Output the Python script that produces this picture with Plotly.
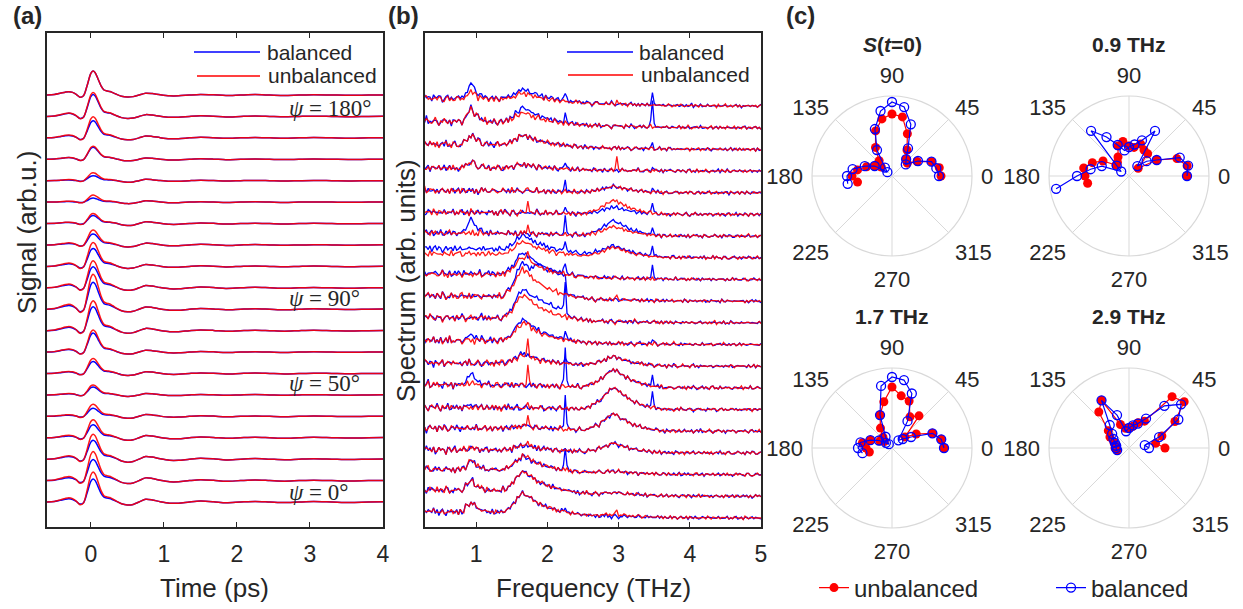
import numpy as np
import plotly.graph_objects as go

W, H = 1243, 609
FONT = "Liberation Sans, Arial, sans-serif"
INK = "#262626"
BLUE = "#0000ff"
RED = "#ff0000"

# ---------------- common ----------------
psi = [0, 10, 20, 30, 40, 50, 60, 70, 80, 90, 100, 110, 120, 130, 140, 150, 160, 170, 180, 190]

# ---------------- panel (a): time traces ----------------
t_nodes = [-0.6, -0.5, -0.42, -0.35, -0.3, -0.25, -0.2, -0.15, -0.1, -0.05, 0.0, 0.03, 0.06, 0.1, 0.14,
           0.18, 0.22, 0.26, 0.3, 0.35, 0.42, 0.5, 0.58, 0.66, 0.75, 0.84, 0.95, 1.08, 1.2, 1.35, 1.5,
           1.68, 1.85, 2.05, 2.25, 2.45, 2.65, 2.85, 3.05, 3.3, 3.55, 3.8, 4.0]
pulse_shape = [0.0, 0.02, 0.07, 0.12, 0.14, 0.11, 0.03, -0.09, -0.03, 0.40, 0.90, 1.0, 0.93, 0.66, 0.38,
               0.21, 0.17, 0.15, 0.10, 0.03, 0.0, 0.0, 0.0, 0.0, 0.0, 0.0, 0.0, 0.0, 0.0, 0.0, 0.0,
               0.0, 0.0, 0.0, 0.0, 0.0, 0.0, 0.0, 0.0, 0.0, 0.0, 0.0, 0.0]
osc_shape = [0.0, 0.0, 0.0, 0.0, 0.0, 0.0, 0.0, 0.0, 0.0, 0.0, 0.0, 0.0, 0.0, 0.0, 0.0,
             0.0, 0.0, 0.0, 0.0, 0.0, -0.6, -1.0, -0.8, 0.0, 0.9, 0.7, 0.1, -0.4, -0.4, 0.0, 0.3,
             0.1, -0.25, 0.0, 0.2, 0.0, -0.2, 0.0, 0.15, 0.0, -0.15, 0.0, 0.05]
peak_bal = [23, 21, 19, 13, 8, 8, 12, 19, 24, 27, 21, 18, 11, 8, 4, 5, 12, 17, 22, 24]
peak_unbal = [30, 29, 25, 18, 12, 10, 15, 22, 30, 35, 27, 24, 15, 10, 7, 8, 13, 21, 24, 24]
tail_amp = [3, 3, 3, 2.5, 2, 1.5, 2, 2, 2.5, 2.5, 2.5, 2, 2, 2, 1.5, 1.5, 1.5, 2, 2, 2]

# ---------------- panel (b): spectra ----------------
freq = [round(0.275 + 0.025 * j, 3) for j in range(190)]
bg_f = [0.28, 0.5, 1.0, 1.45, 1.9, 2.4, 3.0, 3.6, 4.2, 5.0]
bg_v = [1.15, 1.0, 1.0, 0.95, 0.7, 0.45, 0.25, 0.1, 0.03, 0.0]
noise_f = [0.28, 1.5, 2.5, 5.0]
noise_v = [1.3, 1.1, 0.75, 0.55]
p09_off = [-0.12, -0.05, 0.0, 0.05, 0.1, 0.18, 0.25]
p09_v = [0.0, 0.5, 1.0, 0.6, 0.3, 0.1, 0.0]
p17_off = [-0.28, -0.15, -0.07, 0.0, 0.08, 0.18, 0.3, 0.5, 0.8, 1.0]
p17_v = [0.0, 0.3, 0.75, 1.0, 0.85, 0.6, 0.4, 0.2, 0.05, 0.0]
p29_off = [-0.4, -0.2, -0.08, 0.0, 0.1, 0.25, 0.45, 0.7]
p29_v = [0.0, 0.35, 0.75, 1.0, 0.75, 0.4, 0.15, 0.0]
spike_off = [-0.05, -0.025, 0.0, 0.025, 0.05]
spike_v = [0.0, 0.15, 1.0, 0.15, 0.0]
plat_f = [1.75, 1.85, 2.0, 2.2, 2.25, 2.275]
plat_v = [0.0, 0.8, 0.9, 1.0, 1.0, 0.0]

bg_bal = [6, 6, 5, 3, 3, 2, 3, 3, 4, 5, 5, 6, 9, 3, 2, 2, 3, 5, 6, 8]
bg_unbal = [6, 6, 5, 3, 3, 2, 3, 3, 4, 5, 5, 5, 4, 3, 2, 2, 3, 5, 6, 7]
p09_bal = [11, 11, 10, 2, 0, 3, 12, 0, 6, 0, 0, 0, 0, 15, 0, 0, 7, 10, 14, 15]
p09_unbal = [11, 11, 10, 2, 0, 0, 2, 0, 0, 0, 0, 0, 0, 0, 0, 0, 7, 10, 14, 8]
p17_bal = [20, 20, 14, 5, 3, 0, 0, 10, 22, 30, 35, 22, 15, 0, 0, 0, 4, 10, 15, 10]
p17_unbal = [20, 20, 14, 5, 3, 0, 0, 8, 18, 24, 28, 18, 13, 0, 0, 0, 4, 10, 10, 7]
p29_bal = [0, 2, 2, 9, 17, 22, 18, 9, 0, 0, 0, 0, 10, 15, 7, 6, 0, 0, 0, 0]
p29_unbal = [2, 2, 2, 9, 17, 22, 18, 9, 0, 0, 0, 0, 10, 9, 14, 6, 0, 0, 0, 0]
s173_unbal = [0, 0, 5, 6, 8, 5, 20, 18, 4, 0, 0, 10, 0, 9, 11, 3, 0, 0, 0, 0]
s225_bal = [4, 0, 22, 0, 36, 0, 40, 5, 8, 28, 0, 10, 10, 17, 7, 11, 7, 0, 8, 8]
s347_bal = [0, 0, 0, 0, 0, 15, 10, 0, 5, 0, 0, 13, 10, 6, 12, 4, 4, 5, 27, 12]
s297_unbal = [5, 0, 0, 0, 0, 0, 0, 0, 0, 0, 5, 0, 0, 0, 0, 0, 13, 0, 0, 4]
plat_bal = [0, 0, 0, 0, 0, 0, 0, 0, 0, 6, 18, 0, 0, 0, 0, 0, 0, 0, 0, 0]

noise_common = [1, -2, 0, 2, -1, 3, -1, 0, -2, 1, 2, -1, -3, 0, 1, 2, 0, -1, 1, -2, 2, 0, -1, 3, 1, -2, -1,
                0, 2, -1, 1, 0, -2, 1, 3, -1, 0, -1, 2, -2, 0, 1, -1, 2, 0, -3, 1, 1, -1, 0, 2, -2, 1, 0,
                -1, 3, -1, -2, 0, 1, 1, -1, 2, 0, -2, 1, -1, 0, 3, -2, 0, 1, -1, 2, -1, 0, -2, 2, 1, -1,
                0, 1, -3, 2, 0, -1, 1, 2, -2, 0, 1, -1, 0, 2, -1, 1, -2]
noise_own = [-1, 1, 2, -2, 0, 1, -1, 3, -2, 0, 1, 0, -1, 2, -1, -2, 1, 0, 2, -1, 1, -3, 0, 2, 1, -1, 0,
             -2, 2, 0, -1, 1, 3, -1, -2, 0, 1, -1, 2, 0, -2, 1, 0, 1, -1, 2, -2, 0, -1, 3, 0, -1, 1, -2,
             2, 0, -1, 1, 0, -2, 2, 1, -1, 0, -2, 1, 2, -1, 0, 1, -1, -2, 2, 0, 1, -1, 0, 3, -2, 1, -1,
             0, 2, -1]

# ---------------- panel (c): polar plots (radii) ----------------
polar_titles = ["<b><i>S</i>(<i>t</i>=0)</b>", "<b>0.9 THz</b>", "<b>1.7 THz</b>", "<b>2.9 THz</b>"]
r_unbal = [
    [49, 48, 42, 29, 20, 22, 30, 45, 60, 62, 58, 48, 33, 20, 14, 20, 27, 35, 40, 35],
    [58, 59, 51, 32, 12, 29, 30, 34, 29, 30, 35, 32, 22, 18, 17, 30, 39, 46, 44, 42],
    [52, 50, 43, 28, 17, 42, 36, 50, 53, 61, 47, 35, 23, 14, 10, 14, 23, 30, 26, 23],
    [36, 27, 35, 53, 72, 67, 31, 27, 22, 20, 20, 25, 55, 47, 27, 22, 16, 14, 14, 12],
]
r_bal = [
    [47, 45, 42, 30, 18, 22, 32, 55, 70, 74, 66, 50, 30, 11, 6, 20, 29, 40, 45, 45],
    [58, 60, 54, 32, 23, 13, 52, 38, 32, 29, 26, 33, 45, 59, 16, 9, 29, 39, 52, 74],
    [52, 50, 43, 22, 14, 10, 31, 58, 69, 71, 63, 35, 13, 5, 8, 15, 23, 32, 34, 30],
    [20, 16, 32, 57, 68, 55, 34, 26, 23, 20, 17, 35, 55, 30, 22, 18, 15, 13, 13, 12],
]
angle_ticks = [0, 45, 90, 135, 180, 225, 270, 315]

# =====================================================================
fig = go.Figure()

def fx(px):
    return px / W

def fy(py):
    return 1 - py / H

# ---- panel (a) ----
ta = np.array(t_nodes)
for k in range(len(psi)):
    base = 25 + 21.42 * k
    yb = base + peak_bal[k] * np.array(pulse_shape) + tail_amp[k] * np.array(osc_shape)
    yr = base + peak_unbal[k] * np.array(pulse_shape) + tail_amp[k] * np.array(osc_shape)
    fig.add_trace(go.Scatter(x=ta, y=yb, mode="lines", line=dict(color=BLUE, width=1.5, shape="spline", smoothing=0.8),
                             showlegend=False, xaxis="x", yaxis="y", hoverinfo="skip"))
    fig.add_trace(go.Scatter(x=ta, y=yr, mode="lines", line=dict(color=RED, width=1.5, shape="spline", smoothing=0.8),
                             showlegend=False, xaxis="x", yaxis="y", opacity=0.9, hoverinfo="skip"))

# ---- panel (b) ----
f = np.array(freq)
bg = np.interp(f, bg_f, bg_v)
env = np.interp(f, noise_f, noise_v)

def feat(center, offs, vals):
    return np.interp(f - center, offs, vals, left=0.0, right=0.0)

P09 = feat(0.925, p09_off, p09_v)
P17 = feat(1.65, p17_off, p17_v)
P29 = feat(2.925, p29_off, p29_v)
S173 = feat(1.725, spike_off, spike_v)
S225 = feat(2.25, spike_off, spike_v)
S347 = feat(3.475, spike_off, spike_v)
S297 = feat(2.975, spike_off, spike_v)
PLAT = np.interp(f, plat_f, plat_v, left=0.0, right=0.0)

LC, LO = len(noise_common), len(noise_own)
for k in range(len(psi)):
    base = 9 + 21.68 * k
    nc = np.array([noise_common[(j + 11 * k) % LC] for j in range(len(f))])
    nb = np.array([noise_own[(j + 5 * k) % LO] for j in range(len(f))])
    nr = np.array([noise_own[(j + 5 * k + 37) % LO] for j in range(len(f))])
    yb = (base + bg_bal[k] * bg + p09_bal[k] * P09 + p17_bal[k] * P17 + p29_bal[k] * P29
          + s225_bal[k] * S225 + s347_bal[k] * S347 + plat_bal[k] * PLAT
          + env * (0.8 * nc + 0.6 * nb))
    yr = (base + bg_unbal[k] * bg + p09_unbal[k] * P09 + p17_unbal[k] * P17 + p29_unbal[k] * P29
          + s173_unbal[k] * S173 + s297_unbal[k] * S297
          + env * (0.8 * nc + 0.6 * nr))
    fig.add_trace(go.Scatter(x=f, y=yb, mode="lines", line=dict(color=BLUE, width=1.3),
                             showlegend=False, xaxis="x2", yaxis="y2", hoverinfo="skip"))
    fig.add_trace(go.Scatter(x=f, y=yr, mode="lines", line=dict(color=RED, width=1.3),
                             showlegend=False, xaxis="x2", yaxis="y2", opacity=0.9, hoverinfo="skip"))

# ---- panel (c) ----
polar_names = ["polar", "polar2", "polar3", "polar4"]
centers = [(892, 176), (1129, 176), (892, 448), (1129, 448)]
R = 80
for i, pn in enumerate(polar_names):
    fig.add_trace(go.Scatterpolar(theta=psi, r=r_unbal[i], mode="lines+markers", subplot=pn,
                                  name="unbalanced", legend="legend3", showlegend=(i == 0),
                                  line=dict(color=RED, width=1.2),
                                  marker=dict(color=RED, size=9, symbol="circle")))
    fig.add_trace(go.Scatterpolar(theta=psi, r=r_bal[i], mode="lines+markers", subplot=pn,
                                  name="balanced", legend="legend4", showlegend=(i == 0),
                                  line=dict(color=BLUE, width=1.2),
                                  marker=dict(color=BLUE, size=9, symbol="circle-open", line=dict(width=1.3))))

# ---- layout ----
axis_common = dict(showline=True, linecolor=INK, linewidth=1.5, mirror="ticks", ticks="inside",
                   ticklen=5, tickwidth=1.3, tickcolor=INK, showgrid=False, zeroline=False,
                   tickfont=dict(family=FONT, size=23, color=INK), ticklabelstandoff=6)
yaxis_common = dict(showline=True, linecolor=INK, linewidth=1.5, mirror=True, ticks="",
                    showticklabels=False, showgrid=False, zeroline=False, range=[0, 494],
                    domain=[fy(527), fy(33)])
leg_common = dict(orientation="h", xanchor="left", y=fy(588), yanchor="middle",
                  font=dict(family=FONT, size=24, color=INK), bgcolor="rgba(0,0,0,0)", itemwidth=30)

layout = dict(
    width=W, height=H, margin=dict(l=0, r=0, t=0, b=0, autoexpand=False),
    paper_bgcolor="white", plot_bgcolor="white",
    font=dict(family=FONT, color=INK),
    xaxis=dict(axis_common, domain=[fx(47), fx(383)], range=[-0.6, 4.0],
               tickvals=[0, 1, 2, 3, 4], anchor="y"),
    yaxis=dict(yaxis_common, anchor="x"),
    xaxis2=dict(axis_common, domain=[fx(425), fx(761)], range=[0.28, 5.0],
                tickvals=[1, 2, 3, 4, 5], anchor="y2"),
    yaxis2=dict(yaxis_common, anchor="x2"),
    legend3=dict(leg_common, x=fx(814)),
    legend4=dict(leg_common, x=fx(1051)),
    showlegend=True,
)
for i, pn in enumerate(polar_names):
    cx, cy = centers[i]
    layout[pn] = dict(
        domain=dict(x=[fx(cx - R), fx(cx + R)], y=[fy(cy + R), fy(cy - R)]),
        bgcolor="white",
        angularaxis=dict(tickmode="array", tickvals=angle_ticks, ticktext=[str(a) for a in angle_ticks],
                         direction="counterclockwise", rotation=0, showline=True, linecolor="#d9d9d9",
                         linewidth=1.2, gridcolor="#d9d9d9", gridwidth=1.2, ticks="outside",
                         ticklen=4, tickcolor="rgba(0,0,0,0)",
                         tickfont=dict(family=FONT, size=22, color=INK)),
        radialaxis=dict(range=[0, 80], showticklabels=False, ticks="", showline=False, showgrid=False),
    )
fig.update_layout(**layout)

ann = []
def text(x, y, s, size, xanchor="center", yanchor="middle", family=FONT, textangle=0):
    ann.append(dict(x=fx(x), y=fy(y), xref="paper", yref="paper", text=s, showarrow=False,
                    xanchor=xanchor, yanchor=yanchor, textangle=textangle,
                    font=dict(family=family, size=size, color=INK)))

# panel labels
text(27, 16, "<b>(a)</b>", 24)
text(403, 16, "<b>(b)</b>", 24)
text(800, 16, "<b>(c)</b>", 24)
# axis titles
text(214, 588, "Time (ps)", 26)
text(593, 588, "Frequency (THz)", 26)
text(27, 233, "Signal (arb.u.)", 26, textangle=-90)
text(406, 281, "Spectrum (arb. units)", 26, textangle=-90)
# psi labels
psi_y = {18: 108, 9: 298, 5: 383, 0: 492}
for k, yy in psi_y.items():
    text(287, yy, "<i>ψ</i> = %d°" % psi[k], 23, xanchor="left", family="Liberation Serif, Times New Roman, serif")
# polar titles
for i, (cx, cy) in enumerate(centers):
    text(cx, cy - 132, polar_titles[i], 21)

# manual legends for (a) and (b)
shapes = []
def leg(x0, x1, y, color, label, tx):
    shapes.append(dict(type="line", xref="paper", yref="paper", x0=fx(x0), x1=fx(x1), y0=fy(y), y1=fy(y),
                       line=dict(color=color, width=1.4)))
    text(tx, y, label, 21, xanchor="left")
leg(194, 260, 52, BLUE, "balanced", 265)
leg(197, 260, 76, RED, "unbalanced", 266)
leg(567, 633, 52, BLUE, "balanced", 637)
leg(568, 633, 75, RED, "unbalanced", 639)

fig.update_layout(annotations=ann, shapes=shapes)
fig.write_html("out.html")
